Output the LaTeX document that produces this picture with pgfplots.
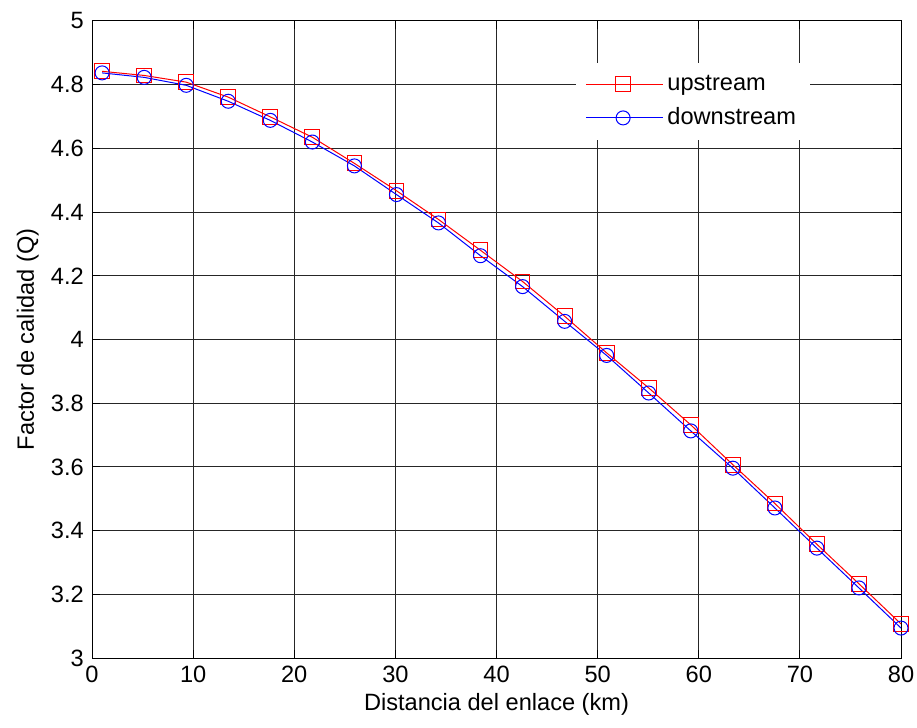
\documentclass[border=0pt]{standalone}
\usepackage{pgfplots}
\pgfplotsset{compat=1.18}
\usepackage{fontspec}
\setmainfont{Liberation Sans}
\begin{document}
\fontsize{11.8}{14}\selectfont
\begin{tikzpicture}
\begin{axis}[
    scale only axis,
    width=404.5pt, height=318.5pt,
    xmin=0, xmax=80, ymin=3, ymax=5,
    xtick={0,10,...,80},
    ytick={3,3.2,...,5.01},
    yticklabels={3,3.2,3.4,3.6,3.8,4,4.2,4.4,4.6,4.8,5},
    grid=major,
    major grid style={black!85, line width=0.5pt},
    axis line style={black, line width=0.5pt},
    tick style={black, line width=0.5pt},
    tick align=inside,
    major tick length=4pt,
    /pgf/number format/assume math mode=true,
    tick label style={font=\fontsize{11.8}{14}\selectfont},
    label style={font=\fontsize{11.8}{14}\selectfont},
    xlabel={Distancia del enlace (km)},
    ylabel={Factor de calidad (Q)},
    xlabel style={yshift=3pt},
    ylabel style={yshift=-2pt},
    legend style={at={(0.888,0.935)}, anchor=north east, draw=none, fill=white,
        font=\fontsize{11.8}{14}\selectfont, row sep=3pt, inner xsep=5pt, inner ysep=4pt},
    legend cell align=left,
    legend image code/.code={
        \draw[#1, mark=none] (-0.1cm,0cm) -- (1.25cm,0cm);
        \draw[#1, only marks] plot coordinates {(0.55cm,0cm)};
    },
]
\addplot[red, line width=0.5pt, mark=square, mark size=3.7pt, mark options={solid}] coordinates {
    (1.0,4.842) (5.16,4.829) (9.32,4.808) (13.47,4.761) (17.63,4.699)
    (21.79,4.635) (25.95,4.553) (30.11,4.467) (34.26,4.377) (38.42,4.280)
    (42.58,4.182) (46.74,4.073) (50.89,3.958) (55.05,3.848) (59.21,3.732)
    (63.37,3.607) (67.53,3.485) (71.68,3.357) (75.84,3.233) (80.0,3.107)
};
\addplot[blue, line width=0.5pt, mark=o, mark size=3.5pt, mark options={solid}] coordinates {
    (1.0,4.837) (5.16,4.823) (9.32,4.798) (13.47,4.748) (17.63,4.688)
    (21.79,4.620) (25.95,4.545) (30.11,4.455) (34.26,4.366) (38.42,4.263)
    (42.58,4.166) (46.74,4.057) (50.89,3.950) (55.05,3.832) (59.21,3.713)
    (63.37,3.596) (67.53,3.471) (71.68,3.345) (75.84,3.220) (80.0,3.094)
};
\legend{upstream, downstream}
\end{axis}
\pgfresetboundingbox
\useasboundingbox ([shift={(-46pt,-34.5pt)}]current axis.south west) rectangle ([shift={(8pt,10.5pt)}]current axis.north east);
\end{tikzpicture}
\end{document}
